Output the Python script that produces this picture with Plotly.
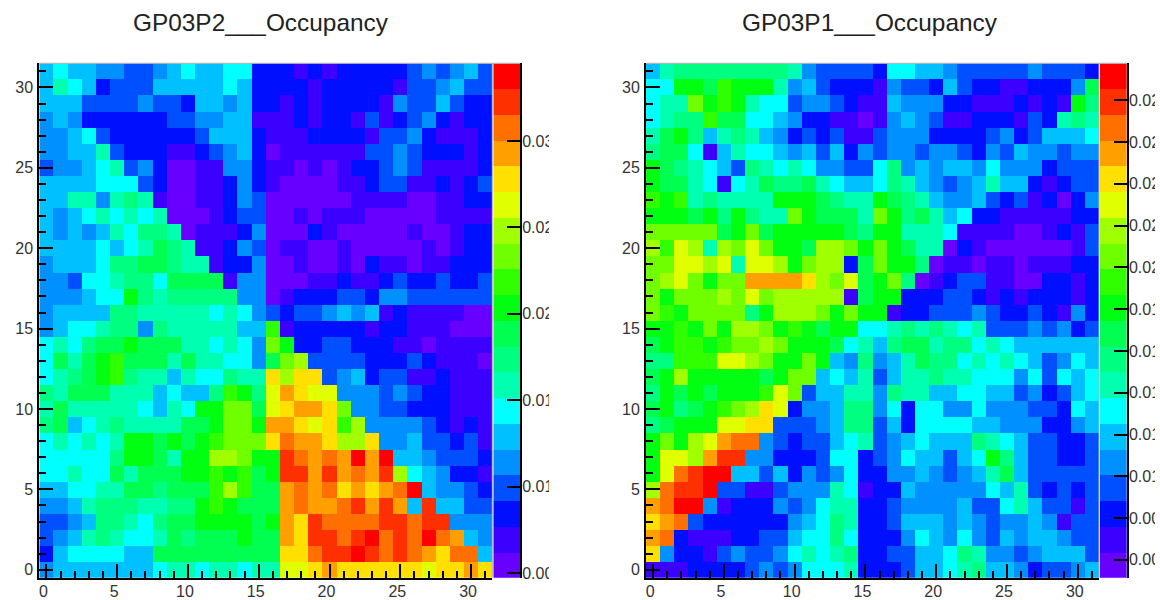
import plotly.graph_objects as go

W, H = 1160, 600
TITLES = ["GP03P2___Occupancy", "GP03P1___Occupancy"]
# colour level of each bin (base-20 digit), rows from y=31 down to y=0
P2_LEVELS = [
"56554433456556622212122222343453","57652333555556522221222221334533",
"55533334332554522121222214335322","45422222233445511121221312342122",
"44563222222355521112222133421112","44557322211234520111111334322212",
"34456734200114421101012234311112","55556663200112421000011233112123",
"55774787100112430000001111001122","54567676700012330010111000001111",
"54545768870111240002100000100122","55556567987112430110010000010122",
"45556889987712240010010211011222","44366788699991440001121123223223",
"444566a8788888440122233244333333","45555887777767643233454512111100",
"4566788487777755b122222122111000","676899a999776764ca22332221101111",
"6979ab99979776649cd3333222321110","6789ab8775766877fdff345233112111",
"8799977756558ba8egfee44434322111","79777776576aacc9efggfc4433222111",
"895678777799accaggfefbd444432121","676767aa9a9abcccfhggfddf44533231",
"666668aa97aaddcaaihghgjgj5543332","6676697999aabab9aiigighgid654221",
"556677998999bdb99ghghfgfghj54432","44578887788aba999ghgghigig5i5533",
"33458876899aaaa9agfihhhhiihii444","34578766798999a99gfiihijhihjhg54",
"25666655999999999ffhiijihihgfhh5","45555555677677677eefgffffffeffgf",
]
P1_LEVELS = [
"57888888887433332665543333343332","66aa9baaa74532221433253221122249",
"677caba76634432115444221112121a8","6788b996654221101454311222132787",
"79a85787542323113444222234235556","89961576654535243443443243544344",
"a9876538767644336845455464442333","a9976167988976556875434575521233",
"bab787777aaa9877a987544532312024","aaa9a8a877ca9997ca89756221111122",
"ccccc9ac9aaaaa98aa77761111001213","dbed7dcecaa9ddcaca97702100000013",
"cceede7eedacdd29caa8011011011122","cdecaccggggfdce9ac80123311002212",
"cacccdcecddddd19aa22233212122212","cbacccc8adddcacaa122333432232142",
"aabacaddcaba9aa66787876733343423","9abbabccdcaaa9675899788676555555",
"88bbbeedcaaca5484579886767653465","9adaaaaa9acc56573577877666463656",
"8a9a9aaabec355774877556655342356","9a89abcdfe2445884626644644433265",
"89aaaeeff33345883526666554442245","acadeghh432335673456555876533223",
"aeedgii44222366234655356a8533223","aehijj55352434622445434579533333",
"dhiij331134447612254444465732323","ghjj4122243467722344445336753313",
"fgh32222224568722355545434454133","gh21112233566862224654 6435455433".replace(" ",""),
"f4221343346767822335568744345553","11122223434666722235567855423345",
]
BAR_COLORS = ["#6800ff","#3c00ff","#0010ff","#0050ff","#0090ff","#00c0ff","#00ffff","#00ffb0",
              "#00ff80","#00ff50","#00ff10","#30ff00","#70ff00","#a0ff00","#e0ff00","#ffe000",
              "#ffa000","#ff7000","#ff3000","#ff0000"]
P2_BAR_TICKS = [0.005,0.010,0.015,0.020,0.025,0.030]
P2_BAR_LABELS = ["0.00","0.01","0.01","0.02","0.02","0.03"]
P1_BAR_TICKS = [0.006,0.008,0.010,0.012,0.014,0.016,0.018,0.020,0.022,0.024,0.026,0.028]
P1_BAR_LABELS = ["0.00","0.00","0.01","0.01","0.01","0.01","0.01","0.02","0.02","0.02","0.02","0.02"]
P2_BAR_RANGE = [0.00472,0.0345]
P1_BAR_RANGE = [0.00514,0.02977]
BINS = list(range(32))
DIGITS = "0123456789abcdefghij"

def to_z(rows):
    out = []
    for row in reversed(rows):
        assert len(row) == 32, row
        out.append([DIGITS.index(ch) + 0.5 for ch in row])
    return out

n = len(BAR_COLORS)
cscale = []
for i, c in enumerate(BAR_COLORS):
    cscale += [[i/n, c], [(i+1)/n, c]]

fig = go.Figure()
px = lambda v: v/W
py = lambda v: 1 - v/H
panels = [
 dict(l=39.3, r=492.3, bl=493.3, br=520, levels=P2_LEVELS, rng=P2_BAR_RANGE, ticks=P2_BAR_TICKS, labels=P2_BAR_LABELS, tx=261, title=TITLES[0], clip=549),
 dict(l=646, r=1099, bl=1100, br=1126.7, levels=P1_LEVELS, rng=P1_BAR_RANGE, ticks=P1_BAR_TICKS, labels=P1_BAR_LABELS, tx=870, title=TITLES[1], clip=1155),
]
TOP, BOT = 63.3, 577.8
layout = dict(width=W, height=H, margin=dict(l=0,r=0,t=0,b=0), paper_bgcolor="white", plot_bgcolor="white",
              showlegend=False, font=dict(family="Liberation Sans", color="#333333", size=16), shapes=[], annotations=[])
ax = 1
for p in panels:
    xa, ya, xb, yb = f"x{ax}", f"y{ax}", f"x{ax+1}", f"y{ax+1}"
    fig.add_trace(go.Heatmap(z=to_z(p["levels"]), x=BINS, y=BINS, xaxis=xa, yaxis=ya, zmin=0, zmax=n,
                             colorscale=cscale, showscale=False))
    lo, hi = p["rng"]
    edges = [lo + (hi-lo)*i/n for i in range(n+1)]
    fig.add_trace(go.Heatmap(z=[[i+0.5] for i in range(n)], y=edges, x=[0, 1], xaxis=xb, yaxis=yb, zmin=0, zmax=n,
                             colorscale=cscale, showscale=False))
    common = dict(range=[-0.5,31.5], tickmode="linear", tick0=0, dtick=5, ticks="inside", ticklen=14, tickwidth=2,
                  tickcolor="black", showline=True, linecolor="black", linewidth=2, showgrid=False, zeroline=False,
                  automargin=False,
                  minor=dict(dtick=1, tick0=0, ticks="inside", ticklen=7, tickwidth=1.5, tickcolor="black", showgrid=False),
                  tickfont=dict(size=16, color="#333333"))
    layout[f"xaxis{ax}"] = dict(common, domain=[px(p["l"]), px(p["r"])], anchor=ya, ticklabelstandoff=-2, ticklabelshift=-3)
    layout[f"yaxis{ax}"] = dict(common, domain=[py(BOT), py(TOP)], anchor=xa, ticklabelstandoff=1)
    layout[f"xaxis{ax+1}"] = dict(domain=[px(p["bl"]), px(p["br"])], anchor=yb, range=[0,1], visible=False, automargin=False)
    layout[f"yaxis{ax+1}"] = dict(domain=[py(BOT), py(TOP)], anchor=xb, side="right", range=[lo,hi], tickmode="array",
                                  tickvals=p["ticks"], ticktext=p["labels"], ticklabelstandoff=-3,
                                  ticks="inside", ticklen=13, tickwidth=2, tickcolor="black", showline=True,
                                  linecolor="black", linewidth=2, showgrid=False, zeroline=False, automargin=False,
                                  tickfont=dict(size=16, color="#333333"))
    layout["annotations"].append(dict(text=p["title"], xref="paper", yref="paper", x=px(p["tx"]), y=py(22.5),
                                      xanchor="center", yanchor="middle", showarrow=False,
                                      font=dict(size=24.4, color="#222222", family="Liberation Sans")))
    layout["shapes"].append(dict(type="rect", xref="paper", yref="paper", x0=px(p["clip"]), x1=px(p["clip"]+20),
                                 y0=py(BOT+10), y1=py(TOP-10), fillcolor="white", line_width=0, layer="above"))
    layout["shapes"].append(dict(type="path", xref="paper", yref="paper",
                                 path=f"M {px(p['l'])} {py(TOP)} L {px(p['br'])} {py(TOP)} M {px(p['r'])} {py(TOP)} L {px(p['r'])} {py(BOT)}",
                                 line=dict(color="#b0b0b0", width=1), layer="above"))
    ax += 2
fig.update_layout(**layout)
fig.write_html("out.html", post_script="document.body.style.margin='0';", config=dict(displayModeBar=False))
